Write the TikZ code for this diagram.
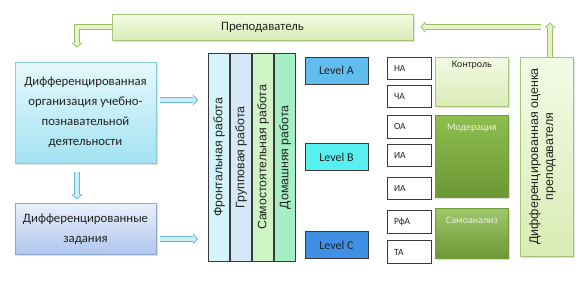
\documentclass[tikz,border=0pt]{standalone}
\usepackage{fontspec}
\setmainfont{Carlito}
\newfontfamily\arialfont{Liberation Sans}
\usetikzlibrary{arrows.meta, positioning, calc, shadows}
\definecolor{ink}{HTML}{222222}
\definecolor{frame}{HTML}{3A3A3A}
\definecolor{leafedge}{HTML}{A6C47A}
\definecolor{leaftop}{HTML}{F4FAE6}
\definecolor{leafbot}{HTML}{D9ECB4}
\definecolor{skyedge}{HTML}{86CBDD}
\definecolor{skytop}{HTML}{E6F9FD}
\definecolor{skybot}{HTML}{A3E2F2}
\definecolor{iceedge}{HTML}{8AA6D2}
\definecolor{icetop}{HTML}{E9EFFB}
\definecolor{icebot}{HTML}{AFC6EE}
\definecolor{colone}{HTML}{D2F4FA}
\definecolor{coltwo}{HTML}{D4E8F8}
\definecolor{colthree}{HTML}{CFF5C4}
\definecolor{colfour}{HTML}{A4F0C4}
\definecolor{levela}{HTML}{62BDEF}
\definecolor{levelb}{HTML}{57EFEF}
\definecolor{levelc}{HTML}{3F90E4}
\definecolor{mossedge}{HTML}{6F9A38}
\definecolor{mosstop}{HTML}{8EBD50}
\definecolor{mossbot}{HTML}{6C9834}
\definecolor{mosstext}{HTML}{EAF3DC}
\definecolor{pipeblue}{HTML}{CBEFF8}
\definecolor{pipeblueedge}{HTML}{6DB5D2}
\definecolor{pipegreen}{HTML}{E6F3C8}
\definecolor{pipegreenedge}{HTML}{9DBF62}
\tikzset{
  panel/.style    = {rectangle, draw=#1edge, line width=0.8pt, top color=#1top, bottom color=#1bot,
                      text=ink, align=center, font=\fontsize{12.75}{20}\selectfont, inner sep=2pt,
                      drop shadow={opacity=0.25, shadow xshift=1.5pt, shadow yshift=-1.5pt}},
  workcol/.style  = {rectangle, draw=frame, line width=0.8pt, fill=#1, minimum width=21.25pt,
                      minimum height=208pt, inner sep=0pt, font=\arialfont\fontsize{12.3}{14}\selectfont,
                      text=ink},
  levelbox/.style = {rectangle, draw=frame, line width=0.8pt, fill=#1, minimum width=63pt,
                      minimum height=27pt, font=\fontsize{12}{14}\selectfont, text=ink},
  abbr/.style     = {rectangle, draw=frame, line width=0.8pt, fill=white, text width=30pt,
                      inner xsep=7pt, inner ysep=0pt, minimum height=22.5pt, align=left,
                      font=\fontsize{9.5}{11}\selectfont, text=ink},
  stagebox/.style = {rectangle, draw=#1edge, line width=0.8pt, top color=#1top, bottom color=#1bot,
                      minimum width=73pt, inner sep=0pt, anchor=north west,
                      drop shadow={opacity=0.25, shadow xshift=1.5pt, shadow yshift=-1.5pt}},
  stagetext/.style = {font=\fontsize{10}{12}\selectfont, anchor=north, inner sep=2pt},
  pipe/.style     = {line width=6pt, draw=pipe#1edge, -{Triangle[length=5pt,width=11pt]},
                      postaction={draw=pipe#1, line width=4pt, -{Triangle[length=3.4pt,width=7.6pt]},
                      shorten >=1.4pt}},
}
\begin{document}
\begin{tikzpicture}[x=1pt, y=-1pt, node distance=4pt]
  \fill[white] (0,0) rectangle (583,292);
  \useasboundingbox (0,0) rectangle (583,292);

  % left side
  \node[panel=leaf, minimum width=301pt, minimum height=26pt] (teach) at (262.5,27) {Преподаватель};
  \node[panel=sky, minimum width=141pt, minimum height=101pt] (org) at (85.5,112.5)
    {Дифференцированная\\организация учебно-\\познавательной\\деятельности};
  \node[panel=ice, below=40pt of org, minimum width=141pt, minimum height=51pt] (tasks)
    {Дифференцированные\\задания};

  % forms of work
  \node[workcol=colone, anchor=north west] (col1) at (208,53) {\rotatebox{90}{Фронтальная работа}};
  \node[workcol=coltwo, right=0pt of col1] (col2) {\rotatebox{90}{Групповая работа}};
  \node[workcol=colthree, right=0pt of col2] (col3) {\rotatebox{90}{Самостоятельная работа}};
  \node[workcol=colfour, right=0pt of col3] (col4) {\rotatebox{90}{Домашняя работа}};

  % levels
  \node[levelbox=levela] (levA) at (336.5,70.5) {Level A};
  \node[levelbox=levelb] (levB) at (336.5,157) {Level B};
  \node[levelbox=levelc] (levC) at (336.5,245) {Level C};

  % abbreviations
  \node[abbr] (na) at (409,68.25) {НА};
  \node[abbr, below=5pt of na] (cha) {ЧА};
  \node[abbr, below=7pt of cha] (oa) {ОА};
  \node[abbr, below=5pt of oa] (ia1) {ИА};
  \node[abbr, below=10pt of ia1] (ia2) {ИА};
  \node[abbr, below=10pt of ia2] (rfa) {РфА};
  \node[abbr, below=7pt of rfa] (ta) {ТА};

  % stages
  \node[stagebox=leaf, minimum height=49pt,
        label={[stagetext, text=ink, yshift=-2pt]north:Контроль}] (ctrl) at (435,57) {};
  \node[stagebox=moss, minimum height=82pt,
        label={[stagetext, text=mosstext, yshift=-7pt]north:Модерация}] (moder) at (435,115) {};
  \node[stagebox=moss, top color=mosstop!85!white, minimum height=50pt,
        label={[stagetext, text=mosstext, yshift=-7pt]north:Самоанализ}] (self) at (435,208) {};

  \node[panel=leaf, minimum width=53pt, minimum height=199pt, inner sep=0pt] (assess) at (546.5,156.5)
    {\hspace*{-8pt}\rotatebox{90}{\arialfont\fontsize{12.5}{15}\selectfont
     \begin{tabular}{@{}c@{}}Дифференцированная оценка\\преподавателя\end{tabular}}};

  % arrows
  \draw[pipe=blue] ($(org.east)+(4,-12.5)$) -- ($(org.east -| col1.west)+(-10,-12.5)$);
  \draw[pipe=blue] ($(tasks.east)+(4,9.5)$) -- ($(tasks.east -| col1.west)+(-10,9.5)$);
  \draw[pipe=blue] ($(org.south)+(-8.5,9)$) -- ($(tasks.north)+(-8.5,-4)$);
  \draw[pipe=green] (teach.west) -| ($(org.north)+(-8.5,-14)$);
  \draw[pipe=green] ($(assess.north)+(3.5,0)$) -- ($(assess.north)+(3.5,-34)$);
  \draw[pipe=green] ($(assess.north |- teach.east)+(-6,0)$) -- ($(teach.east)+(7,0)$);
\end{tikzpicture}
\end{document}
